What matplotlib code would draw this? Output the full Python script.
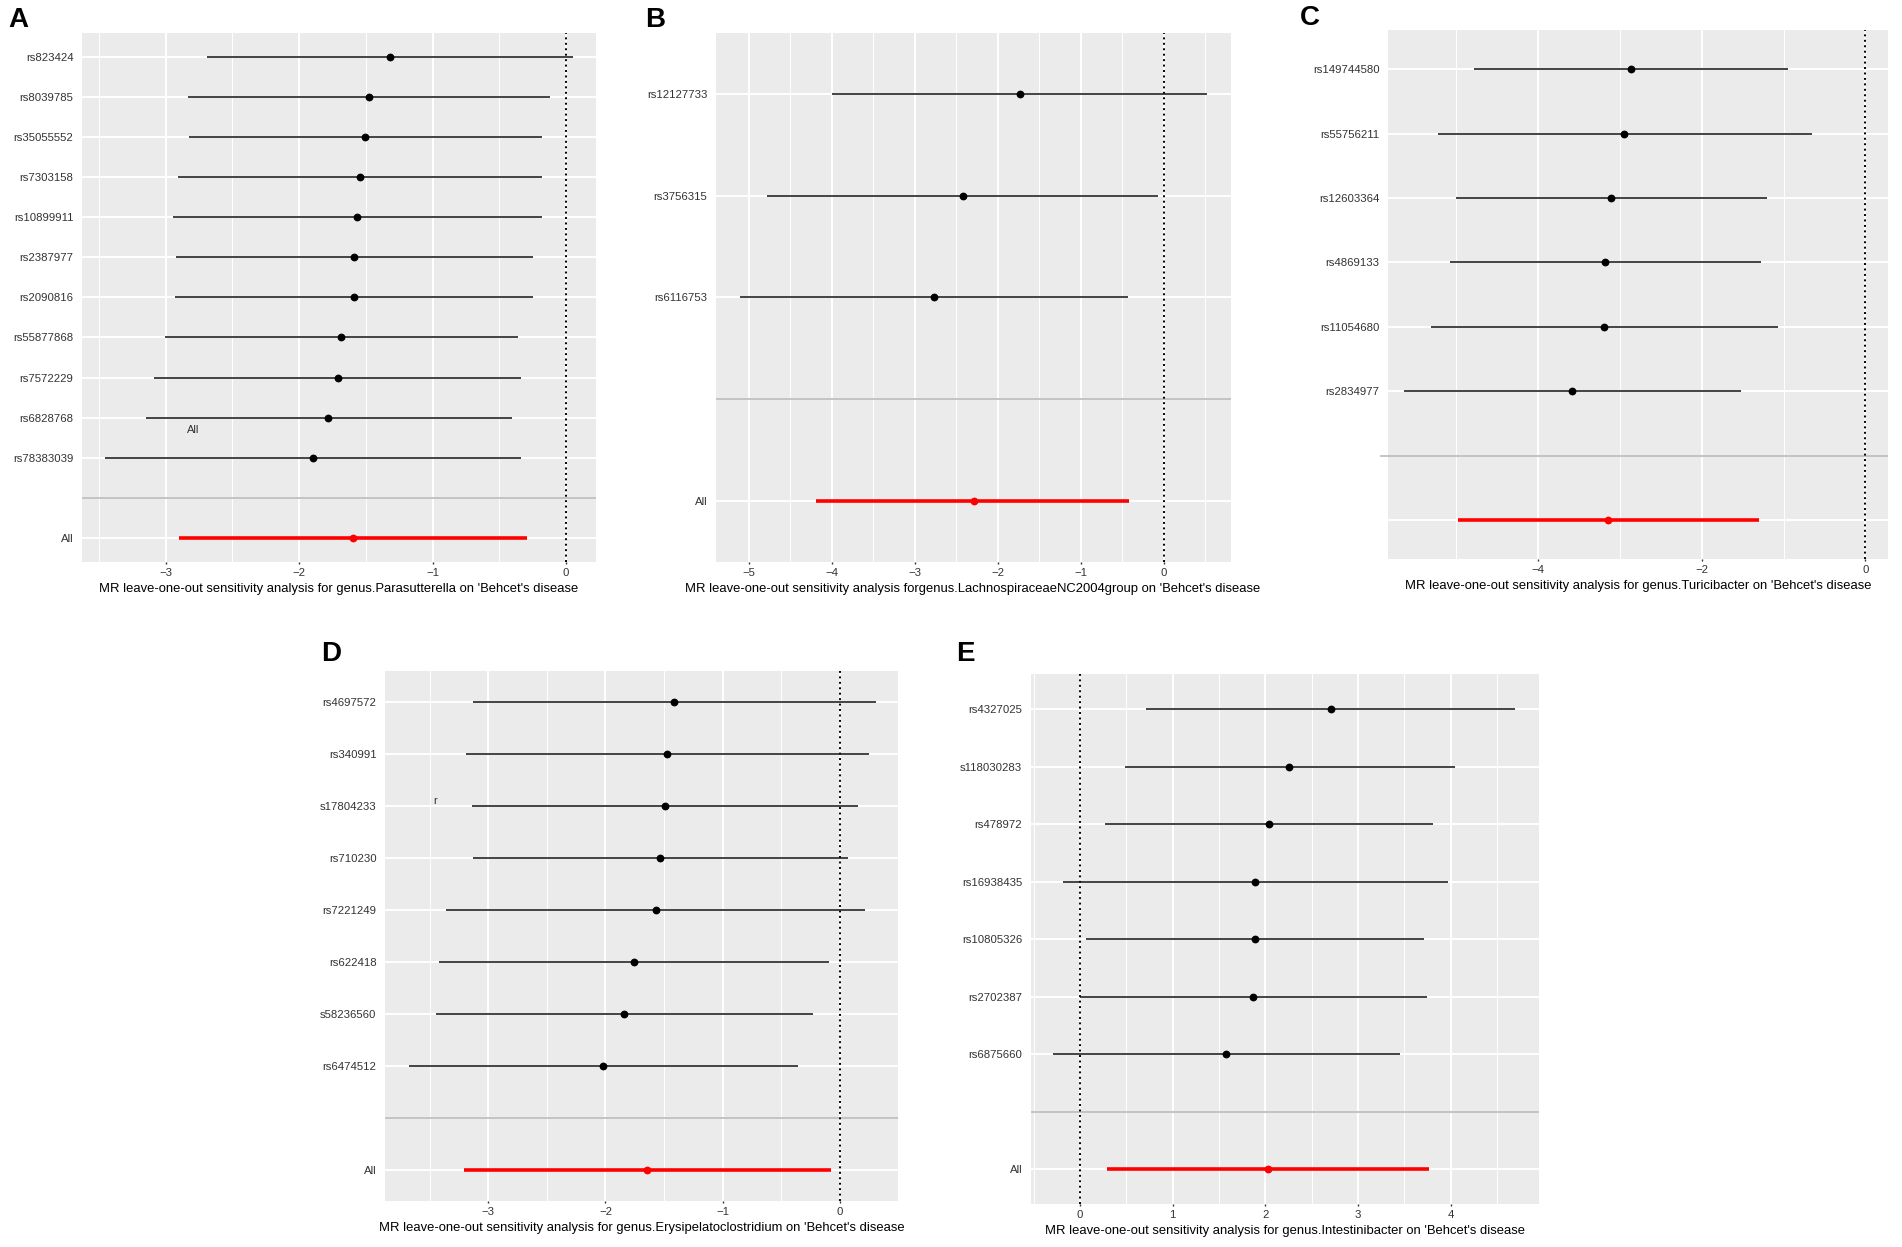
import matplotlib
matplotlib.use("Agg")
import matplotlib.pyplot as plt

W, H = 1902, 1247

# ---- data ----
a_snps = ["rs823424", "rs8039785", "rs35055552", "rs7303158", "rs10899911", "rs2387977",
          "rs2090816", "rs55877868", "rs7572229", "rs6828768", "rs78383039"]
a_b = [-1.318, -1.475, -1.504, -1.546, -1.566, -1.587, -1.587, -1.682, -1.709, -1.780, -1.895]
a_lo = [-2.686, -2.831, -2.822, -2.905, -2.946, -2.923, -2.929, -3.003, -3.083, -3.148, -3.453]
a_hi = [0.050, -0.121, -0.181, -0.181, -0.181, -0.246, -0.246, -0.358, -0.335, -0.403, -0.335]
a_all = (-1.596, -2.899, -0.293)

b_snps = ["rs12127733", "rs3756315", "rs6116753"]
b_b = [-1.735, -2.419, -2.773]
b_lo = [-3.997, -4.774, -5.108]
b_hi = [0.516, -0.069, -0.433]
b_all = (-2.291, -4.184, -0.413)

c_snps = ["rs149744580", "rs55756211", "rs12603364", "rs4869133", "rs11054680", "rs2834977"]
c_b = [-2.87, -2.945, -3.105, -3.18, -3.195, -3.585]
c_lo = [-4.79, -5.23, -5.00, -5.08, -5.315, -5.645]
c_hi = [-0.95, -0.655, -1.20, -1.28, -1.075, -1.52]
c_all = (-3.145, -4.985, -1.305)

d_snps = ["rs4697572", "rs340991", "s17804233", "rs710230", "rs7221249", "rs622418",
          "s58236560", "rs6474512"]
d_b = [-1.413, -1.472, -1.493, -1.535, -1.570, -1.758, -1.841, -2.019]
d_lo = [-3.133, -3.188, -3.140, -3.129, -3.359, -3.422, -3.449, -3.679]
d_hi = [0.306, 0.244, 0.150, 0.066, 0.216, -0.097, -0.230, -0.355]
d_all = (-1.643, -3.209, -0.080)

e_snps = ["rs4327025", "s118030283", "rs478972", "rs16938435", "rs10805326", "rs2702387",
          "rs6875660"]
e_b = [2.709, 2.256, 2.044, 1.894, 1.885, 1.872, 1.581]
e_lo = [0.714, 0.485, 0.273, -0.181, 0.066, 0.0, -0.291]
e_hi = [4.700, 4.044, 3.811, 3.974, 3.709, 3.749, 3.454]
e_all = (2.026, 0.295, 3.762)

titles = [
    "MR leave-one-out sensitivity analysis for genus.Parasutterella on 'Behcet's disease",
    "MR leave-one-out sensitivity analysis forgenus.LachnospiraceaeNC2004group on 'Behcet's disease",
    "MR leave-one-out sensitivity analysis for genus.Turicibacter on 'Behcet's disease",
    "MR leave-one-out sensitivity analysis for genus.Erysipelatoclostridium on 'Behcet's disease",
    "MR leave-one-out sensitivity analysis for genus.Intestinibacter on 'Behcet's disease",
]

plt.rcParams['font.family'] = ['Liberation Sans', 'DejaVu Sans']

fig = plt.figure(figsize=(W / 100, H / 100), dpi=100)


def make_ax(l, r, t, b):
    return fig.add_axes([l / W, 1 - b / H, (r - l) / W, (b - t) / H])


def panel(ax, snps, est, lo, hi, allv, xlim, major, minor, title, all_label="All"):
    n = len(snps)
    ys = [n + 2 - i for i in range(n)]
    ax.set_facecolor("#EBEBEB")
    for x in minor:
        ax.axvline(x, color="white", lw=0.7, zorder=0)
    for x in major:
        ax.axvline(x, color="white", lw=1.4, zorder=0)
    for y in range(1, n + 3):
        ax.axhline(y, color="white", lw=1.4, zorder=0)
    ax.axhline(2, color="#BEBEBE", lw=1.3, zorder=1)
    ax.axvline(0, color="black", lw=1.4, ls=(0, (1, 1.8)), zorder=2)
    ax.hlines(ys, lo, hi, color="#111111", lw=1.1, zorder=3)
    ax.plot(est, ys, "o", color="black", ms=4.6, zorder=4)
    ax.hlines(1, allv[1], allv[2], color="#FF0000", lw=2.6, zorder=3)
    ax.plot([allv[0]], [1], "o", color="#FF0000", ms=4.6, zorder=4)
    ax.set_xlim(*xlim)
    ax.set_ylim(0.4, n + 2.6)
    ax.set_xticks(major)
    ax.set_yticks([1, 2] + ys)
    ax.set_yticklabels([all_label, ""] + snps)
    ax.tick_params(axis="x", length=1.5, width=1, color="#333333", labelcolor="#333333",
                   labelsize=8.2, pad=3)
    ax.tick_params(axis="y", length=0, labelcolor="#333333", labelsize=8.2, pad=6)
    for s in ax.spines.values():
        s.set_visible(False)
    ax.set_xlabel(title, fontsize=9.4, color="black", labelpad=3.5)


axA = make_ax(81.8, 595.7, 32.8, 562)
panel(axA, a_snps, a_b, a_lo, a_hi, a_all, (-3.627, 0.222), [-3, -2, -1, 0],
      [-3.5, -2.5, -1.5, -0.5], titles[0])
axA.text(-2.795, 3.70, "All", fontsize=8, color="#333333", ha="center", va="center")

axB = make_ax(715.5, 1230.6, 32.8, 562)
panel(axB, b_snps, b_b, b_lo, b_hi, b_all, (-5.40, 0.806), [-5, -4, -3, -2, -1, 0],
      [-4.5, -3.5, -2.5, -1.5, -0.5, 0.5], titles[1])

axC = make_ax(1388, 1888, 30.4, 559)
panel(axC, c_snps, c_b, c_lo, c_hi, c_all, (-5.835, 0.275), [-4, -2, 0],
      [-5, -3, -1], titles[2], all_label="")
# separator sticks out a little to the left in panel C
axC.plot([-0.014, 0], [2, 2], color="#BEBEBE", lw=1.3, clip_on=False,
         transform=axC.get_yaxis_transform())

axD = make_ax(384.9, 898.4, 671.2, 1200.8)
panel(axD, d_snps, d_b, d_lo, d_hi, d_all, (-3.881, 0.498), [-3, -2, -1, 0],
      [-3.5, -2.5, -1.5, -0.5], titles[3])
axD.text(-3.456, 8.1, "r", fontsize=8, color="#333333", ha="center", va="center")

axE = make_ax(1030.6, 1538.8, 674.4, 1204)
panel(axE, e_snps, e_b, e_lo, e_hi, e_all, (-0.533, 4.952), [0, 1, 2, 3, 4],
      [-0.5, 0.5, 1.5, 2.5, 3.5, 4.5], titles[4])

for lab, x, y in [("A", 18, 20), ("B", 655, 20), ("C", 1310, 18), ("D", 331, 654), ("E", 965, 654)]:
    fig.text(x / W, 1 - y / H, lab, fontsize=20, fontweight="bold", ha="center", va="center")

fig.savefig("out.png", dpi=100, facecolor="white")
